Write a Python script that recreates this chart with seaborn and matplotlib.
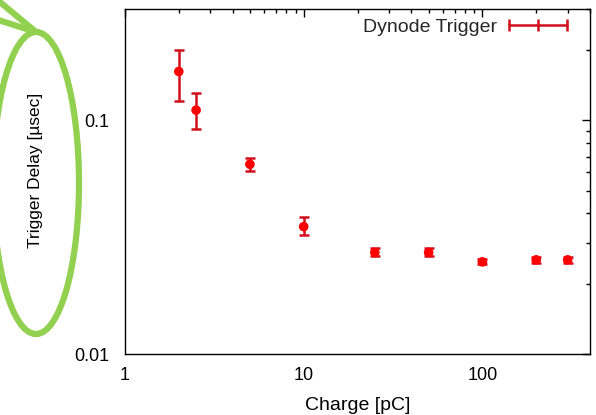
import matplotlib
matplotlib.use("Agg")
import matplotlib.pyplot as plt
import seaborn as sns
import pandas as pd
import numpy as np
from matplotlib.lines import Line2D
from matplotlib.patches import Ellipse
from matplotlib.legend_handler import HandlerLine2D
from matplotlib.ticker import LogLocator, NullFormatter, FixedLocator, FixedFormatter

charge = [2, 2.5, 5, 10, 25, 50, 100, 200, 300]
delay = [0.162, 0.1107, 0.0649, 0.0351, 0.0272, 0.0272, 0.0248, 0.0253, 0.0253]
err_low = [0.121, 0.0915, 0.0605, 0.0323, 0.0262, 0.0262, 0.0242, 0.0246, 0.0246]
err_high = [0.200, 0.131, 0.0689, 0.0385, 0.0283, 0.0283, 0.0254, 0.0260, 0.0260]
series_name = "Dynode Trigger"
x_ticks = [1, 10, 100]
x_tick_labels = ["1", "10", "100"]
y_ticks = [0.01, 0.1]
y_tick_labels = ["0.01", "0.1"]

sns.set_theme(style="white")
plt.rcParams['font.family'] = ['Liberation Sans', 'DejaVu Sans']

df = pd.DataFrame({"charge": charge, "delay": delay, "lo": err_low, "hi": err_high})

fig = plt.figure(figsize=(5.96, 4.15), dpi=100)
ax = fig.add_axes([125/596, 1-354/415, 465/596, 345/415])

bar_color = "#d0101a"
yerr = np.array([df["delay"] - df["lo"], df["hi"] - df["delay"]])
ax.errorbar(df["charge"], df["delay"], yerr=yerr, fmt="none", ecolor=bar_color,
            elinewidth=1.8, capsize=3.3, capthick=1.8, zorder=2)
sns.scatterplot(data=df, x="charge", y="delay", ax=ax, color="#ff0000", s=48,
                marker="o", edgecolor="none", zorder=3, legend=False)

ax.set_xscale("log")
ax.set_yscale("log")
ax.set_xlim(1, 400)
ax.set_ylim(0.01, 0.3)

ax.xaxis.set_major_locator(FixedLocator(x_ticks))
ax.xaxis.set_major_formatter(FixedFormatter(x_tick_labels))
ax.yaxis.set_major_locator(FixedLocator(y_ticks))
ax.yaxis.set_major_formatter(FixedFormatter(y_tick_labels))
ax.xaxis.set_minor_locator(LogLocator(base=10, subs=np.arange(2, 10)))
ax.yaxis.set_minor_locator(LogLocator(base=10, subs=np.arange(2, 10)))
ax.xaxis.set_minor_formatter(NullFormatter())
ax.yaxis.set_minor_formatter(NullFormatter())

ax.tick_params(which="both", direction="in", top=True, right=True, color="black",
               width=1.0, labelsize=13, labelcolor="black")
ax.tick_params(which="major", length=6)
ax.tick_params(which="minor", length=3)
ax.tick_params(axis="x", which="major", pad=9)
ax.tick_params(axis="y", which="major", pad=11)

for sp in ax.spines.values():
    sp.set_color("black")
    sp.set_linewidth(1.0)

ax.set_xlabel("Charge [pC]", fontsize=14, color="black")
ax.set_ylabel("Trigger Delay [µsec]", fontsize=12.5, color="black")
ax.xaxis.set_label_coords(0.5, -0.125)
ax.yaxis.set_label_coords(-0.176, 0.533)

handle = Line2D([], [], color=bar_color, linewidth=1.8, marker="|", markersize=9,
                markeredgewidth=1.8)
ax.legend([handle], [series_name], loc="upper right", frameon=False, markerfirst=False,
          fontsize=14, handlelength=3.0, handletextpad=0.6, borderaxespad=0.0,
          bbox_to_anchor=(0.967, 0.995),
          handler_map={Line2D: HandlerLine2D(numpoints=3, marker_pad=0)})

green = "#92d050"
ell = Ellipse((36/596, 1-183/415), 86/596, 302/415, transform=fig.transFigure,
              fill=False, edgecolor=green, linewidth=4.5, clip_on=False)
fig.add_artist(ell)
fig.add_artist(Line2D([-5/596, 36/596], [1-(-2)/415, 1-32/415], transform=fig.transFigure,
                      color=green, linewidth=4.5, solid_capstyle="round"))
fig.add_artist(Line2D([-5/596, 36/596], [1-19/415, 1-32/415], transform=fig.transFigure,
                      color=green, linewidth=4.5, solid_capstyle="round"))

fig.savefig("out.png", dpi=100)
